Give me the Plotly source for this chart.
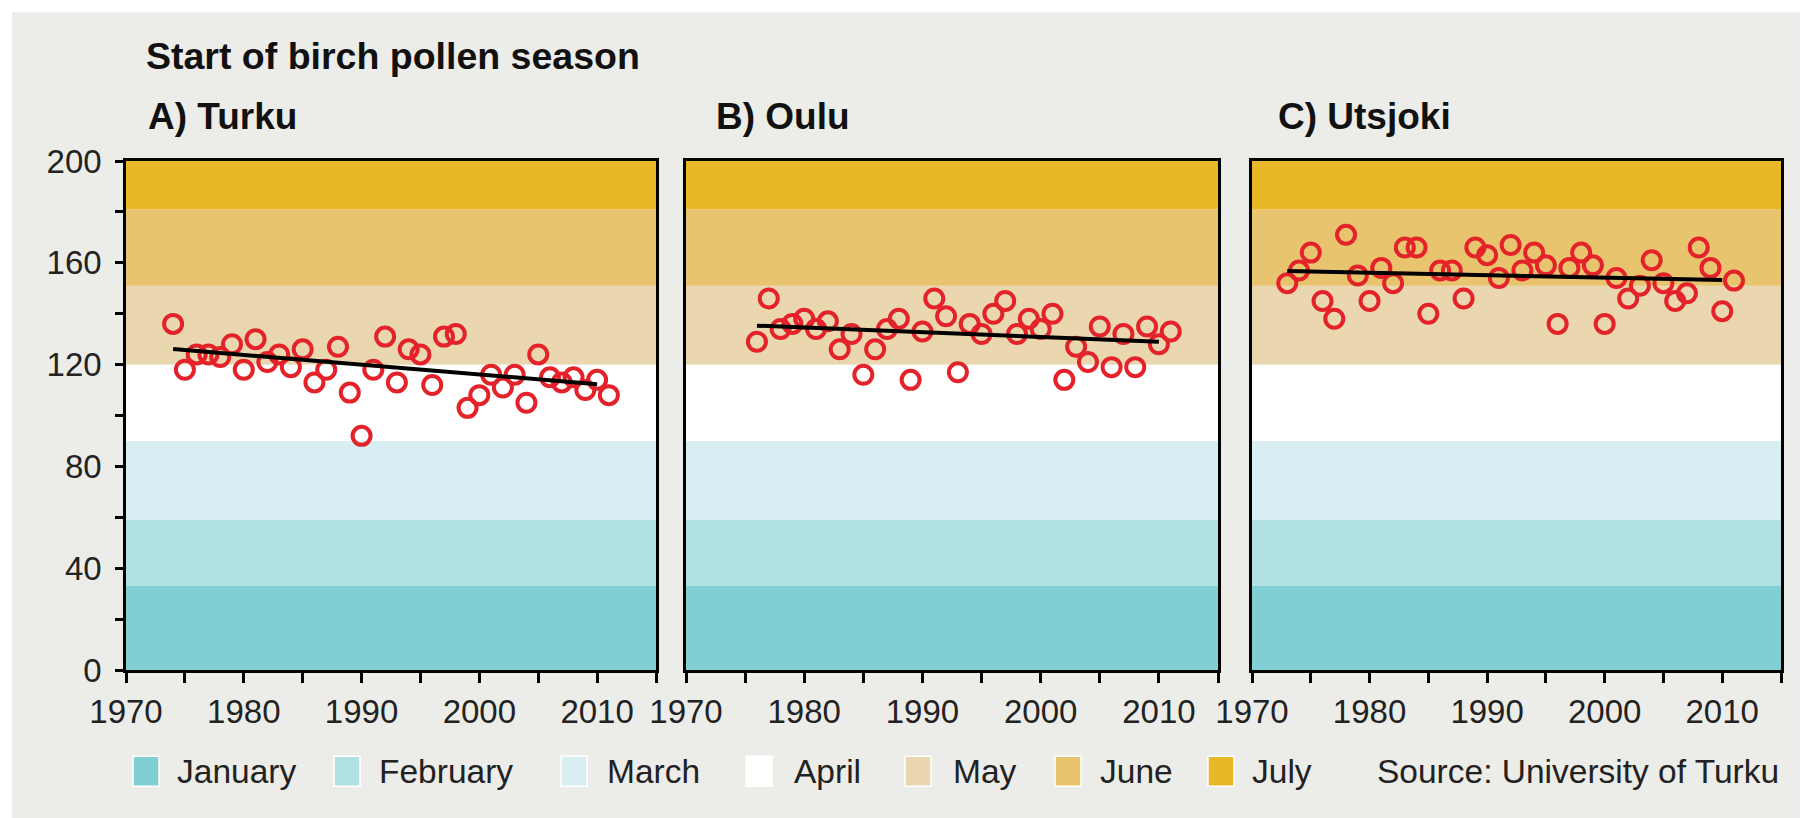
import plotly.graph_objects as go

# ---- data ----
months = ["January", "February", "March", "April", "May", "June", "July"]
month_colors = ["#7FCFD5", "#B2E1E3", "#D8EEF2", "#FFFFFF", "#EAD7B0", "#E9C46E", "#E9B828"]
month_bounds = [0, 33, 59, 90, 120, 151, 181, 200]   # day of year

turku_years = list(range(1974, 2012))
turku_start = [136, 118, 124, 124, 123, 128, 118, 130, 121, 124,
               119, 126, 113, 118, 127, 109, 92, 118, 131, 113,
               126, 124, 112, 131, 132, 103, 108, 116, 111, 116,
               105, 124, 115, 113, 115, 110, 114, 108]
turku_trend_years = [1974, 2010]
turku_trend = [126.1, 112.3]

oulu_years = list(range(1976, 2012))
oulu_start = [129, 146, 134, 136, 138, 134, 137, 126, 132, 116,
              126, 134, 138, 114, 133, 146, 139, 117, 136, 132,
              140, 145, 132, 138, 134, 140, 114, 127, 121, 135,
              119, 132, 119, 135, 128, 133]
oulu_trend_years = [1976, 2010]
oulu_trend = [135.3, 129.0]

utsjoki_years = list(range(1973, 2012))
utsjoki_start = [152, 157, 164, 145, 138, 171, 155, 145, 158, 152,
                 166, 166, 140, 157, 157, 146, 166, 163, 154, 167,
                 157, 164, 159, 136, 158, 164, 159, 136, 154, 146,
                 151, 161, 152, 145, 148, 166, 158, 141, 153]
utsjoki_trend_years = [1973, 2010]
utsjoki_trend = [156.8, 153.2]

panels = [
    ("A) Turku", turku_years, turku_start, turku_trend_years, turku_trend),
    ("B) Oulu", oulu_years, oulu_start, oulu_trend_years, oulu_trend),
    ("C) Utsjoki", utsjoki_years, utsjoki_start, utsjoki_trend_years, utsjoki_trend),
]

# ---- layout helpers (pixels -> paper) ----
W, H = 1808, 818
L, R, T, B = 118, 35, 152.7, 156.3
PW, PH = W - L - R, H - T - B


def px(x):
    return (x - L) / PW


def py(y):
    return (H - B - y) / PH


panel_px = [(118, 648), (678, 1210), (1244, 1773)]
title_px = [138, 706, 1268]
RED = "#E42229"
BG = "#ECECE8"
FONT = "Arial, Liberation Sans, sans-serif"

fig = go.Figure()
layout = {}
shapes = [dict(type="rect", xref="paper", yref="paper", x0=px(4), x1=px(1804),
               y0=py(814), y1=py(4), fillcolor=BG, line=dict(width=0), layer="below")]
annotations = []

for i, (name, yrs, vals, tyrs, tvals) in enumerate(panels, 1):
    sfx = "" if i == 1 else str(i)
    fig.add_trace(go.Scatter(x=yrs, y=vals, mode="markers", xaxis="x" + sfx, yaxis="y" + sfx,
                             marker=dict(symbol="circle-open", size=18, color=RED,
                                         line=dict(width=4, color=RED)),
                             showlegend=False, hoverinfo="skip"))
    fig.add_trace(go.Scatter(x=tyrs, y=tvals, mode="lines", xaxis="x" + sfx, yaxis="y" + sfx,
                             line=dict(color="black", width=4),
                             showlegend=False, hoverinfo="skip"))
    x0, x1 = panel_px[i - 1]
    layout["xaxis" + sfx] = dict(
        domain=[px(x0), px(x1)], anchor="y" + sfx, range=[1970, 2015],
        tick0=1970, dtick=10, ticks="outside", ticklen=10, tickwidth=2.5, tickcolor="black",
        showline=True, linecolor="black", linewidth=2.5, mirror=True,
        showgrid=False, zeroline=False, ticklabelstandoff=1,
        tickfont=dict(size=33, color="#222", family=FONT),
        minor=dict(tick0=1970, dtick=5, ticks="outside", ticklen=10, tickwidth=2.5,
                   tickcolor="black", showgrid=False))
    yax = dict(domain=[0, 1], anchor="x" + sfx, range=[0, 200],
               showline=True, linecolor="black", linewidth=2.5, mirror=True,
               showgrid=False, zeroline=False)
    if i == 1:
        yax.update(tick0=0, dtick=40, ticks="outside", ticklen=8, tickwidth=2.5,
                   tickcolor="black", ticklabelstandoff=7,
                   tickfont=dict(size=33, color="#222", family=FONT),
                   minor=dict(dtick=20, ticks="outside", ticklen=8, tickwidth=2.5,
                              tickcolor="black", showgrid=False))
    else:
        yax.update(ticks="", showticklabels=False)
    layout["yaxis" + sfx] = yax

    for m in range(len(months)):
        shapes.append(dict(type="rect", xref="x%s domain" % sfx, yref="y" + sfx,
                           x0=0, x1=1, y0=month_bounds[m], y1=month_bounds[m + 1],
                           fillcolor=month_colors[m], line=dict(width=0), layer="below"))

    annotations.append(dict(text="<b>%s</b>" % name, xref="paper", yref="paper",
                            x=px(title_px[i - 1]), y=py(108), xanchor="left", yanchor="middle",
                            showarrow=False, font=dict(size=37, color="#111", family=FONT)))

annotations.append(dict(text="<b>Start of birch pollen season</b>", xref="paper", yref="paper",
                        x=px(136), y=py(48), xanchor="left", yanchor="middle",
                        showarrow=False, font=dict(size=37.5, color="#111", family=FONT)))

# ---- legend row ----
swatch_left = [125, 326, 553, 738, 897, 1047, 1200]
label_left = [167, 369, 597, 784, 943, 1090, 1242]
for m in range(len(months)):
    shapes.append(dict(type="rect", xref="paper", yref="paper",
                       x0=px(swatch_left[m]), x1=px(swatch_left[m] + 26),
                       y0=py(778), y1=py(748), fillcolor=month_colors[m],
                       line=dict(color="white", width=1.5)))
    annotations.append(dict(text=months[m], xref="paper", yref="paper",
                            x=px(label_left[m]), y=py(763), xanchor="left", yanchor="middle",
                            showarrow=False, font=dict(size=33.5, color="#222", family=FONT)))
annotations.append(dict(text="Source: University of Turku", xref="paper", yref="paper",
                        x=px(1367), y=py(763), xanchor="left", yanchor="middle",
                        showarrow=False, font=dict(size=33.5, color="#222", family=FONT)))

fig.update_layout(
    width=W, height=H, margin=dict(l=L, r=R, t=T, b=B, pad=0),
    paper_bgcolor="white", plot_bgcolor="rgba(0,0,0,0)",
    font=dict(family=FONT, color="#222"),
    shapes=shapes, annotations=annotations, showlegend=False,
    **layout)

fig.write_html("out.html")
